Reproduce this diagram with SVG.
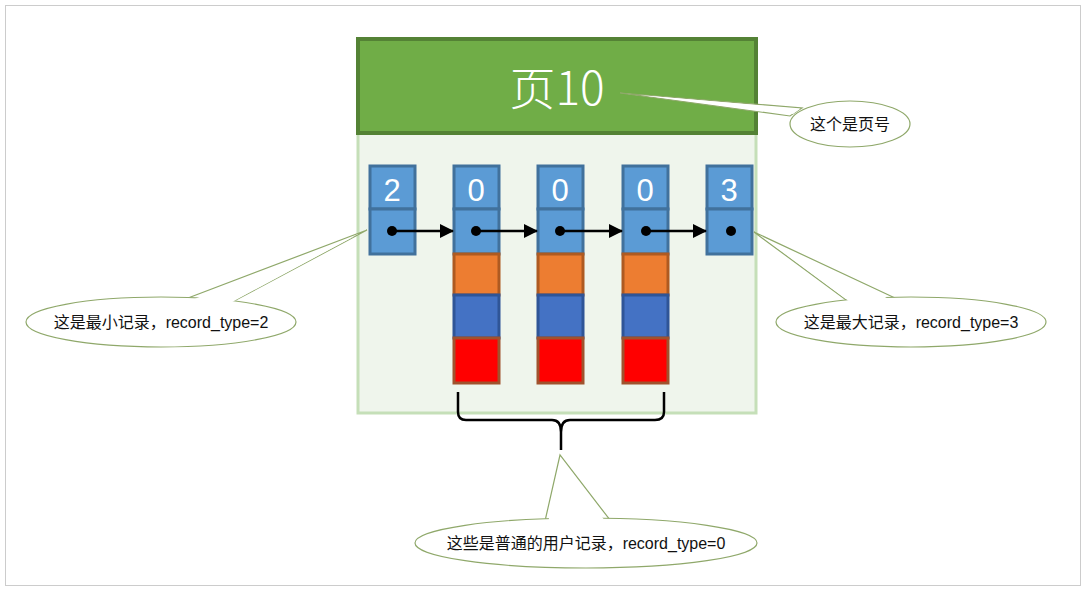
<svg xmlns="http://www.w3.org/2000/svg" width="1086" height="592" viewBox="0 0 1086 592">
<style>
.rec{stroke:#41719C;stroke-width:3}
.blue{fill:#5B9BD5}
.num{font-family:"Liberation Sans",sans-serif;font-size:31px;fill:#fff;text-anchor:middle}
.co{fill:#fff;stroke:#8FA86A;stroke-width:1.2}
.cf{fill:#fff;stroke:none}
.lbl{font-family:"Liberation Sans","Noto Sans CJK SC",sans-serif;font-size:16px;fill:#111;text-anchor:middle}
</style>
<defs>
<marker id="ah" markerWidth="14" markerHeight="14" refX="13" refY="7" orient="auto" markerUnits="userSpaceOnUse"><path d="M0,0 L14,7 L0,14 z" fill="#000"/></marker>
</defs>
<rect width="1086" height="592" fill="#fff"/>
<rect x="5.5" y="5.5" width="1075" height="580" fill="none" stroke="#ccc"/>
<g id="page">
<rect x="358" y="133" width="398" height="280" fill="#EFF5EC" stroke="#C5DFB8" stroke-width="3"/>
<rect x="358" y="39" width="398" height="94" fill="#70AD47" stroke="#548235" stroke-width="4"/>
<text x="557" y="105" font-family="'Noto Sans CJK SC','Liberation Sans',sans-serif" font-weight="300" font-size="46" fill="#fff" text-anchor="middle">页10</text>
</g>
<g id="rec-min">
<rect class="rec blue" x="370" y="166" width="45" height="43"/>
<rect class="rec blue" x="370" y="209" width="45" height="45"/>
<text class="num" x="392" y="201">2</text>
</g>
<g id="rec-1">
<rect class="rec blue" x="454" y="166" width="45" height="43"/>
<rect class="rec blue" x="454" y="209" width="45" height="45"/>
<rect x="454" y="254" width="45" height="41" fill="#ED7D31" stroke="#AE5A21" stroke-width="3"/>
<rect x="454" y="295" width="45" height="43" fill="#4472C4" stroke="#2F5597" stroke-width="3"/>
<rect x="454" y="338" width="45" height="45" fill="#FF0000" stroke="#A0522D" stroke-width="3"/>
<text class="num" x="476" y="201">0</text>
</g>
<g id="rec-2">
<rect class="rec blue" x="538" y="166" width="45" height="43"/>
<rect class="rec blue" x="538" y="209" width="45" height="45"/>
<rect x="538" y="254" width="45" height="41" fill="#ED7D31" stroke="#AE5A21" stroke-width="3"/>
<rect x="538" y="295" width="45" height="43" fill="#4472C4" stroke="#2F5597" stroke-width="3"/>
<rect x="538" y="338" width="45" height="45" fill="#FF0000" stroke="#A0522D" stroke-width="3"/>
<text class="num" x="560" y="201">0</text>
</g>
<g id="rec-3">
<rect class="rec blue" x="623" y="166" width="45" height="43"/>
<rect class="rec blue" x="623" y="209" width="45" height="45"/>
<rect x="623" y="254" width="45" height="41" fill="#ED7D31" stroke="#AE5A21" stroke-width="3"/>
<rect x="623" y="295" width="45" height="43" fill="#4472C4" stroke="#2F5597" stroke-width="3"/>
<rect x="623" y="338" width="45" height="45" fill="#FF0000" stroke="#A0522D" stroke-width="3"/>
<text class="num" x="645" y="201">0</text>
</g>
<g id="rec-max">
<rect class="rec blue" x="707" y="166" width="45" height="43"/>
<rect class="rec blue" x="707" y="209" width="45" height="45"/>
<text class="num" x="729" y="201">3</text>
<circle cx="731" cy="231" r="5" fill="#000"/>
</g>
<g id="connectors" stroke="#000" stroke-width="2.5">
<circle cx="392" cy="231" r="5" fill="#000" stroke="none"/>
<circle cx="476" cy="231" r="5" fill="#000" stroke="none"/>
<circle cx="560" cy="231" r="5" fill="#000" stroke="none"/>
<circle cx="646" cy="231" r="5" fill="#000" stroke="none"/>
<line x1="392" y1="231" x2="453" y2="231" marker-end="url(#ah)"/>
<line x1="476" y1="231" x2="537" y2="231" marker-end="url(#ah)"/>
<line x1="560" y1="231" x2="622" y2="231" marker-end="url(#ah)"/>
<line x1="646" y1="231" x2="706" y2="231" marker-end="url(#ah)"/>
<path d="M458,392 V412 Q458,420 466,420 H552 Q561,420 561,432 V450 M561,432 Q561,420 570,420 H655 Q664,420 664,412 V392" fill="none"/>
</g>
<g id="callout-page">
<polygon class="co" points="620,93 790,116 802,108"/>
<ellipse class="co" cx="850" cy="124" rx="60" ry="23"/>
<polygon class="cf" points="640,95 793,114 800,109"/>
<text class="lbl" x="850" y="130">这个是页号</text>
</g>
<g id="callout-min">
<polygon class="co" points="367,230 188,298 236,300"/>
<ellipse class="co" cx="161" cy="322" rx="135" ry="25"/>
<polygon class="cf" points="355,236 192,300 232,302"/>
<text class="lbl" x="161" y="328">这是最小记录，record_type=2</text>
</g>
<g id="callout-max">
<polygon class="co" points="754,232 846,300 895,298"/>
<ellipse class="co" cx="911" cy="322" rx="135" ry="25"/>
<polygon class="cf" points="764,238 850,302 891,300"/>
<text class="lbl" x="911" y="328">这是最大记录，record_type=3</text>
</g>
<g id="callout-user">
<polygon class="co" points="560,455 545,521 610,520"/>
<ellipse class="co" cx="586" cy="543" rx="171" ry="25"/>
<polygon class="cf" points="560,465 548,523 606,522"/>
<text class="lbl" x="586" y="549">这些是普通的用户记录，record_type=0</text>
</g>
</svg>
